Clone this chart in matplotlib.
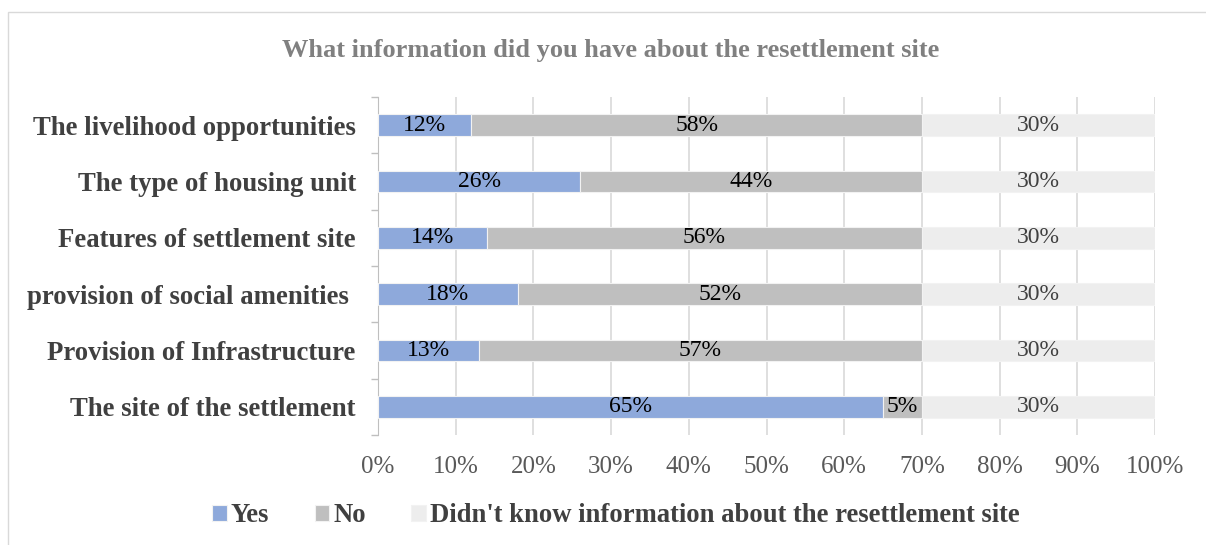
import numpy as np
import matplotlib.pyplot as plt
from matplotlib.patches import Rectangle

plt.rcParams['font.family'] = ['Liberation Serif', 'DejaVu Serif']

# survey answers, bottom to top
kategorie = ['The site of the settlement', 'Provision of Infrastructure',
             'provision of social amenities ', 'Features of settlement site',
             'The type of housing unit', 'The livelihood opportunities']
tak = [65, 13, 18, 14, 26, 12]
nie = [5, 57, 52, 56, 44, 58]
nie_wiem = [30, 30, 30, 30, 30, 30]
serie = ['Yes', 'No', "Didn't know information about the resettlement site"]
kolory = ['#8EA9DB', '#BFBFBF', '#EDEDED']
kolory_tekstu = ['black', 'black', '#404040']

fig = plt.figure(figsize=(12.06, 5.45), dpi=100)
ax = fig.add_axes([378/1206, 1-435/545, (1155-378)/1206, (435-97)/545])

y = np.arange(len(kategorie))
lewo = np.zeros(len(kategorie))
for dane, nazwa, kol, kt in zip([tak, nie, nie_wiem], serie, kolory, kolory_tekstu):
    dane = np.array(dane, dtype=float)
    slupki = ax.barh(y, dane, left=lewo, height=0.39, color=kol, label=nazwa,
                     edgecolor='#F2F2F2', linewidth=0.8, zorder=3)
    ax.bar_label(slupki, labels=[f'{int(v)}%' for v in dane], label_type='center',
                 fontsize=17, color=kt)
    lewo += dane

ax.set_xlim(0, 100)
ax.set_ylim(-0.5, len(kategorie) - 0.5)
ax.set_xticks(np.arange(0, 101, 10))
ax.set_xticklabels([f'{v}%' for v in range(0, 101, 10)], fontsize=18, color='#595959')
ax.tick_params(axis='x', length=0, pad=15)
ax.grid(axis='x', color='#D9D9D9', linewidth=1.2, zorder=0)

ax.set_yticks(y)
ax.set_yticklabels(kategorie, fontsize=19.3, fontweight='bold', color='#404040')
ax.set_yticks(np.arange(-0.5, len(kategorie), 1), minor=True)
ax.tick_params(axis='y', which='major', length=0, pad=16)
ax.tick_params(axis='y', which='minor', length=5, color='#BFBFBF', width=1)

for s in ['top', 'right', 'bottom']:
    ax.spines[s].set_visible(False)
ax.spines['left'].set_color('#BFBFBF')

fig.text(611/1206, 1-50/545, 'What information did you have about the resettlement site',
         ha='center', va='center', fontsize=19, fontweight='bold', color='#808080')

leg = fig.legend(loc='center', bbox_to_anchor=(616/1206, 1-516/545), ncol=3, frameon=False,
                 prop={'size': 19.2, 'weight': 'bold'}, handlelength=0.55, handleheight=0.55,
                 handletextpad=0.15, columnspacing=1.7)
for t in leg.get_texts():
    t.set_color('#404040')

fig.patches.append(Rectangle((8/1206, -0.1), 1.1, 1-12/545 + 0.1, transform=fig.transFigure,
                             fill=False, edgecolor='#D9D9D9', linewidth=1))

plt.savefig('out.png', dpi=100)
